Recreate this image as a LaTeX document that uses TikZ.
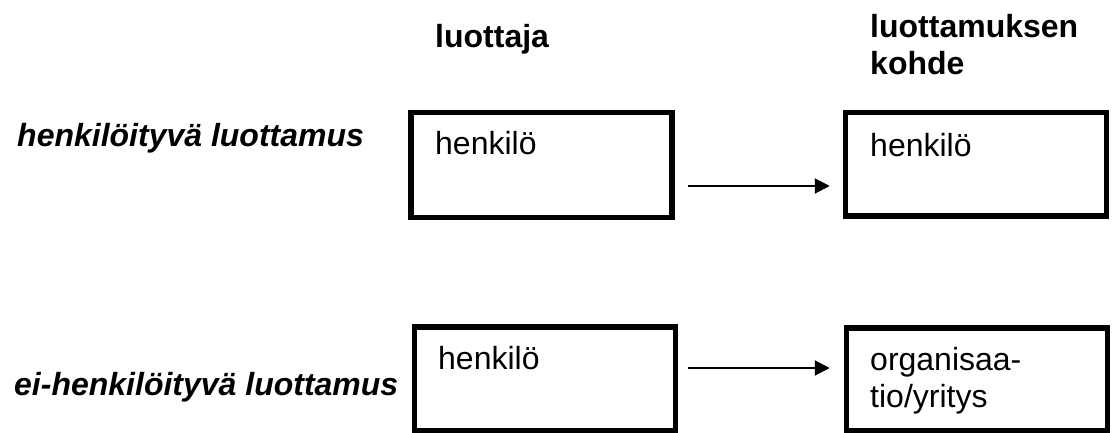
\documentclass[tikz,border=0pt]{standalone}
\usepackage{fontspec}
\setmainfont{Liberation Sans}
\usetikzlibrary{arrows.meta,calc}
\begin{document}
\begin{tikzpicture}[x=1pt,y=-1pt,
  box/.style={draw=black,line width=5.5pt,rectangle,minimum width=261pt,inner sep=0pt,fill=white},
  txt/.style={anchor=base west,inner sep=0pt,font=\fontsize{32}{37}\selectfont},
  head/.style={txt,font=\fontsize{32}{37}\selectfont\bfseries,align=left},
  rowlab/.style={txt,font=\fontsize{32}{37}\selectfont\bfseries\itshape},
  arr/.style={line width=2pt,-{Triangle[length=15pt,width=15pt]}}]
\useasboundingbox (0,0) rectangle (1114,433);
% headings
\node[head] (hA) at (435,48) {luottaja};
\node[head] (hB) at (870,75) {luottamuksen\\kohde};
% row labels
\node[rowlab] (r1) at (17,147) {henkilöityvä luottamus};
\node[rowlab] (r2) at (14,395) {ei-henkilöityvä luottamus};
% boxes
\node[box,minimum height=105pt] (t1) at (541.5,165) {};
\node[box,minimum height=103.5pt] (t2) at (976,164.25) {};
\node[box,minimum height=103.5pt] (b1) at (545,378.75) {};
\node[box,minimum height=103pt] (b2) at (977,379.5) {};
% box texts
\node[txt] (t1t) at (435,155) {henkilö};
\node[txt] (t2t) at (870,157) {henkilö};
\node[txt] (b1t) at (438,369) {henkilö};
\node[txt,align=left] (b2t) at (870,407) {organisaa-\\tio/yritys};
% arrows
\coordinate (a1s) at ([shift={(13.5,21)}]t1.east);
\draw[arr,shorten >=13pt] (a1s) -- (a1s -| t2.west);
\coordinate (a2s) at ([shift={(10,-10.75)}]b1.east);
\draw[arr,shorten >=14pt] (a2s) -- (a2s -| b2.west);
\end{tikzpicture}
\end{document}
